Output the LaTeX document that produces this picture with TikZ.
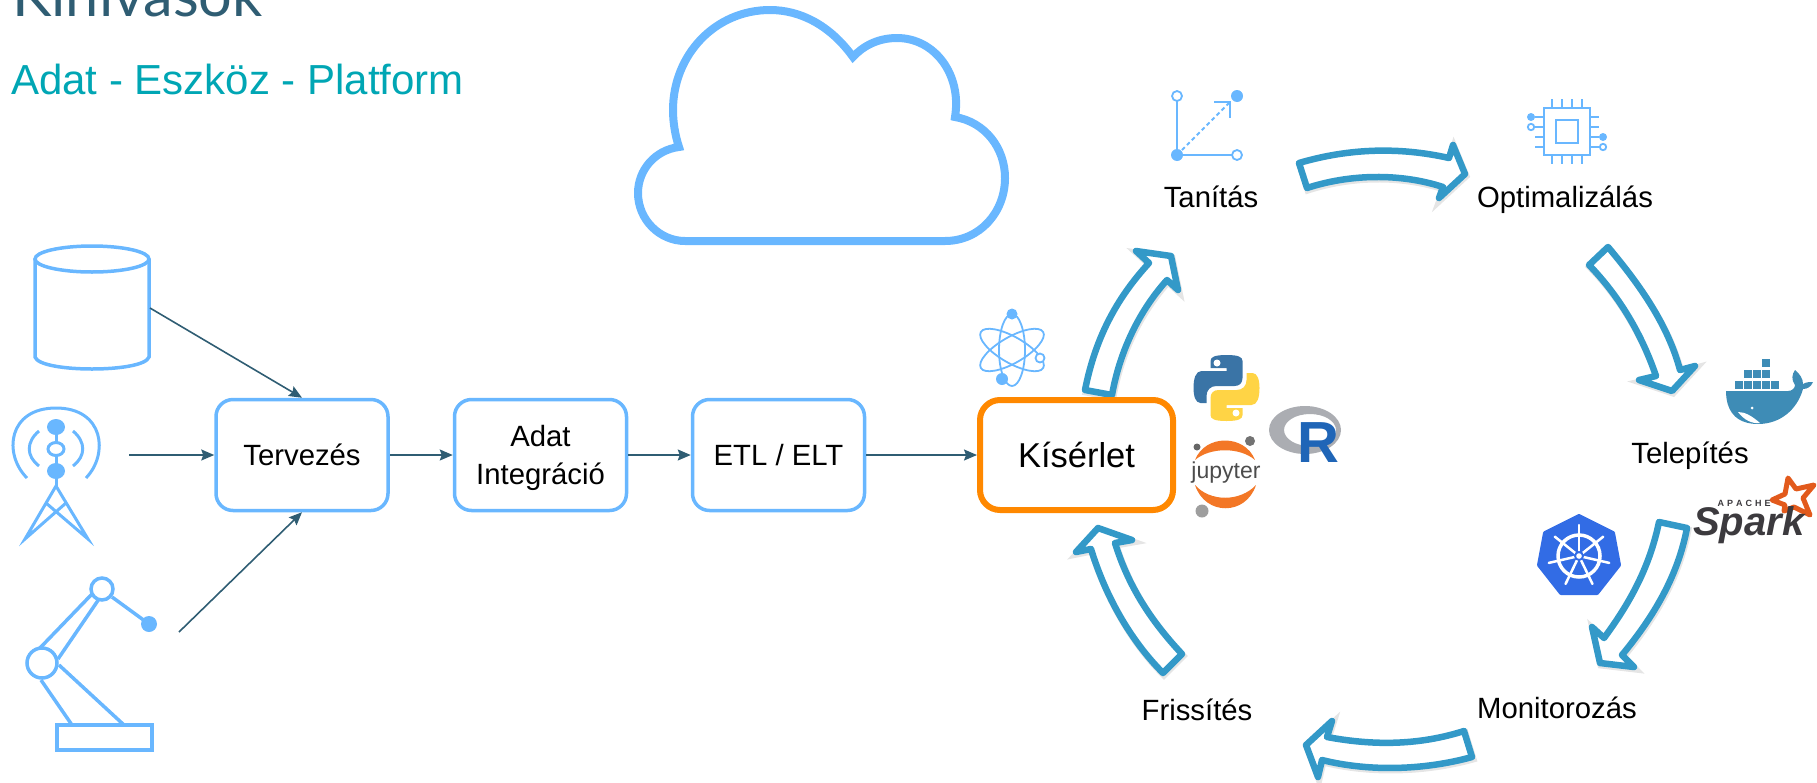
\documentclass[tikz,border=0pt]{standalone}
\usepackage{fontspec}
\setmainfont{Liberation Sans}
\newfontfamily\titlefont{Lato}
\usetikzlibrary{arrows.meta}
\definecolor{iconblue}{HTML}{69B7FF}
\definecolor{slate}{HTML}{2F5D73}
\definecolor{teal}{HTML}{00A6B4}
\definecolor{cycleblue}{HTML}{3399C8}
\definecolor{orangebox}{HTML}{FF8800}
\definecolor{pyblue}{HTML}{3A74A6}
\definecolor{pyyellow}{HTML}{FFD445}
\definecolor{rgrey}{HTML}{ABADB2}
\definecolor{rblue}{HTML}{1F65B7}
\definecolor{jupyorange}{HTML}{F37726}
\definecolor{dockerblue}{HTML}{3E8CB6}
\definecolor{kubeblue}{HTML}{326CE5}
\definecolor{sparkorange}{HTML}{E25A1C}
\definecolor{sparkgrey}{HTML}{3C3A3E}
\tikzset{
      flowbox/.style={draw=iconblue, line width=3.5, rounded corners=17, fill=white,
            minimum width=172, minimum height=111, align=center,
            font=\fontsize{29.3}{38}\selectfont},
      expbox/.style={draw=orangebox, line width=6, rounded corners=20, fill=white,
            minimum width=193, minimum height=110,
            font=\fontsize{34.5}{40}\selectfont},
      steplabel/.style={anchor=base, font=\fontsize{29.3}{32}\selectfont},
      flowarrow/.style={draw=slate, fill=slate, line width=1.6, -{Stealth[length=13,width=11,inset=2]}},
      icon/.style={draw=iconblue, line width=3.5},
      thinicon/.style={draw=iconblue, line width=1.8},
      iconfill/.style={fill=iconblue},
      cyclearrow/.style={draw=cycleblue, line width=6.5, fill=white, line join=round,
            preaction={draw=black, opacity=.1, line width=7,
                  transform canvas={xshift=1, yshift=-2}}},
}
\begin{document}
\begin{tikzpicture}[x=1pt, y=-1pt]
        \clip (0,0) rectangle (1817,782);

        % Draw the headings
        \node[anchor=base west, inner sep=0, text=slate, font=\titlefont\fontsize{59.5}{66}\selectfont] (title) at (12,16) {Kihívások};
        \node[anchor=base west, inner sep=0, text=teal, font=\fontsize{42}{48}\selectfont] (subtitle) at (11,94) {Adat - Eszköz - Platform};

        % Draw the cloud
        \draw[draw=iconblue, line width=8, miter limit=4] (685,241) -- (945,241)
              .. controls (980,241) and (1005,212) .. (1005,178)
              .. controls (1005,148) and (985,122) .. (955,117)
              .. controls (962,75) and (935,38) .. (897,38)
              .. controls (878,38) and (863,46) .. (853,57)
              .. controls (830,25) and (800,10) .. (770,10)
              .. controls (715,10) and (673,55) .. (673,110)
              .. controls (673,122) and (675,135) .. (679,147)
              .. controls (655,150) and (638,170) .. (638,193)
              .. controls (638,220) and (660,241) .. (685,241) -- cycle;

        % Draw the database
        \draw[icon] (92,259) ellipse (57 and 13);
        \draw[icon] (35,259) -- (35,357) .. controls (40,373) and (144,373) .. (149,357) -- (149,259);

        % Draw the tower
        \draw[icon, line width=3] (27,478) .. controls (3,454) and (8,408) .. (56,408) .. controls (104,408) and (109,454) .. (86,478);
        \draw[icon, line width=3] (39,431) .. controls (26,442) and (26,456) .. (39,466);
        \draw[icon, line width=3] (73,431) .. controls (86,442) and (86,456) .. (73,466);
        \draw[icon, line width=3] (56,427) -- (56,486);
        \fill[white] (56,449) ellipse (8 and 6.5);
        \draw[icon, line width=3] (56,449) ellipse (8 and 6.5);
        \fill[iconfill] (56,427) ellipse (9 and 8);
        \fill[iconfill] (56,471) ellipse (9 and 8);
        \draw[icon, line width=3, miter limit=10] (46,503) -- (88,539) -- (56,486) -- (25,539) -- (66,503);

        % Draw the robot arm
        \draw[icon] (57,725) rectangle (152,750);
        \draw[icon] (39,649) -- (92,594);
        \draw[icon] (58,659) -- (99,599);
        \draw[icon] (112,597) -- (149,624);
        \draw[icon] (41,680) -- (72,725);
        \draw[icon] (59,665) -- (124,725);
        \draw[icon, fill=white] (42,663) circle (15);
        \draw[icon, fill=white] (102,589) circle (11);
        \fill[iconfill] (149,624) circle (8);

        % Draw the boxes
        \coordinate (dbout) at (150,308);
        \coordinate (towerout) at (129,455);
        \coordinate (robotout) at (179,632);
        \node[flowbox] (tervezes) at (302,455) {Tervezés};
        \node[flowbox] (adat) at (540.5,455) {\rule{0pt}{28pt}Adat\\Integráció};
        \node[flowbox] (etl) at (778.5,455) {ETL / ELT};

        % Draw the cycle arrows
        \draw[cyclearrow] (1085,390) .. controls (1095,340) and (1115,300) .. (1149,263) -- (1136,251) -- (1171,256) -- (1178,290) -- (1167,280) .. controls (1140,310) and (1120,350) .. (1112,395) -- cycle;
        \draw[cyclearrow] (1299,163) .. controls (1350,148) and (1400,147) .. (1449,158) -- (1453,145) -- (1465,174) -- (1439,198) -- (1443,187) .. controls (1400,173) and (1350,174) .. (1307,188) -- cycle;
        \draw[cyclearrow] (1608,247) .. controls (1640,285) and (1668,325) .. (1680,370) -- (1695,366) -- (1672,391) -- (1639,380) -- (1656,376) .. controls (1642,335) and (1620,297) .. (1589,265) -- cycle;
        \draw[cyclearrow] (1659,522) .. controls (1650,565) and (1632,600) .. (1604,638) -- (1592,627) -- (1600,663) -- (1634,667) -- (1622,655) .. controls (1655,615) and (1678,575) .. (1687,528) -- cycle;
        \draw[cyclearrow] (1464,731) .. controls (1420,745) and (1375,746) .. (1327,737) -- (1332,721) -- (1306,745) -- (1318,777) -- (1322,760) .. controls (1370,772) and (1425,770) .. (1472,757) -- cycle;
        \draw[cyclearrow] (1182,654) .. controls (1150,620) and (1128,585) .. (1115,543) -- (1132,540) -- (1098,528) -- (1076,552) -- (1091,549) .. controls (1105,595) and (1130,640) .. (1163,673) -- cycle;

        \node[expbox] (kiserlet) at (1076.5,455) {Kísérlet};

        % Draw the connectors
        \draw[flowarrow] (dbout) -- (tervezes.north);
        \draw[flowarrow] (towerout) -- (tervezes.west);
        \draw[flowarrow] (robotout) -- (tervezes.south);
        \draw[flowarrow] (tervezes.east) -- (adat.west);
        \draw[flowarrow] (adat.east) -- (etl.west);
        \draw[flowarrow] (etl.east) -- (kiserlet.west);

        % Draw the cycle labels
        \node[steplabel] (tanitas) at (1211,207) {Tanítás};
        \node[steplabel] (optim) at (1565,207) {Optimalizálás};
        \node[steplabel] (telepites) at (1690,463) {Telepítés};
        \node[steplabel] (monitor) at (1557,718) {Monitorozás};
        \node[steplabel] (frissites) at (1197,720) {Frissítés};

        % Draw the atom
        \draw[thinicon] (1012,350) ellipse (13 and 36);
        \draw[thinicon, rotate around={60:(1012,350)}] (1012,350) ellipse (13 and 36);
        \draw[thinicon, rotate around={-60:(1012,350)}] (1012,350) ellipse (13 and 36);
        \fill[iconfill] (1012,314) circle (5.5);
        \fill[iconfill] (1002,379) circle (6);
        \draw[thinicon, fill=white] (1040,358) circle (4.5);

        % Draw the training icon
        \draw[thinicon] (1177,96) -- (1177,155) -- (1237,155);
        \draw[thinicon, dashed, dash pattern=on 4 off 3] (1177,155) -- (1229,103);
        \draw[thinicon] (1214,102) -- (1230,102) -- (1230,118);
        \draw[thinicon, fill=white] (1177,96) circle (5);
        \draw[thinicon, fill=white] (1237,155) circle (5);
        \fill[iconfill] (1237,96) circle (6);
        \fill[iconfill] (1177,155) circle (6);

        % Draw the chip
        \draw[thinicon] (1544,108) rectangle (1590,155);
        \draw[thinicon] (1556,120) rectangle (1578,143);
        \foreach \px in {1552,1562,1572,1582} {
              \draw[thinicon] (\px,99) -- (\px,108);
              \draw[thinicon] (\px,155) -- (\px,164);
        }
        \foreach \py in {117,127,137,147} {
              \draw[thinicon] (1535,\py) -- (1544,\py);
              \draw[thinicon] (1590,\py) -- (1599,\py);
        }
        \fill[iconfill] (1531,117) circle (4);
        \draw[thinicon, fill=white] (1531,127) circle (3.2);
        \fill[iconfill] (1603,137) circle (4);
        \draw[thinicon, fill=white] (1603,147) circle (3.2);

        % Draw the python logo
        \foreach \rot/\col in {0/pyblue,180/pyyellow} {
              \fill[\col, shift={(1226.5,388)}, rotate=\rot] (-16,-27) .. controls (-16,-31) and (-12,-33) .. (0,-33) .. controls (12,-33) and (16,-31) .. (16,-27) -- (16,-10) .. controls (16,-5) and (13,-2) .. (8,-2) -- (-10,-2) .. controls (-16,-2) and (-20,2) .. (-20,8) -- (-20,15) -- (-26,15) .. controls (-31,15) and (-33,8) .. (-33,0) .. controls (-33,-9) and (-31,-17) .. (-25,-17) -- (0,-17) -- (0,-20) -- (-16,-20) -- cycle;
        }
        \fill[white] (1217,363) circle (3.5);
        \fill[white] (1236,413) circle (3.5);

        % Draw the R logo
        \fill[rgrey, even odd rule] (1305,430) ellipse (36 and 24) (1310,430) ellipse (26 and 16);
        \node[anchor=base, inner sep=0, text=rblue, font=\bfseries\fontsize{58}{60}\selectfont] (rlogo) at (1318,462) {R};

        % Draw the jupyter logo
        \fill[jupyorange] (1195,460) .. controls (1205,434) and (1245,434) .. (1255,460) .. controls (1240,447) and (1210,447) .. (1195,460) -- cycle;
        \fill[jupyorange] (1195,485) .. controls (1205,516) and (1246,516) .. (1256,485) .. controls (1240,502) and (1210,502) .. (1195,485) -- cycle;
        \fill[black!55] (1250,441) circle (5);
        \fill[black!60] (1197,447) circle (3.5);
        \fill[black!38] (1202,511) circle (6.5);
        \node[anchor=base, inner sep=0, text=black!70, font=\fontsize{23}{25}\selectfont] (jupyter) at (1226,478) {jupyter};

        % Draw the docker whale
        \fill[dockerblue] (1726,391) -- (1788,391) .. controls (1792,391) and (1795,388) .. (1795,385) .. controls (1791,380) and (1792,374) .. (1795,370) .. controls (1800,374) and (1803,379) .. (1803,384) .. controls (1806,382) and (1810,382) .. (1813,382) .. controls (1811,387) and (1807,389) .. (1803,389) .. controls (1797,410) and (1780,424) .. (1758,424) .. controls (1735,424) and (1726,410) .. (1726,391) -- cycle;
        \fill[white] (1738,412) .. controls (1745,412) and (1752,416) .. (1760,423) .. controls (1752,424) and (1744,420) .. (1738,412) -- cycle;
        \fill[white] (1752,408) circle (1.5);
        \foreach \bx/\by in {1735/381,1744/381,1753/381,1762/381,1771/381,1744/370,1753/370,1762/370,1762/359} {
              \fill[dockerblue] (\bx,\by) rectangle ++(8,8);
        }

        % Draw the kubernetes logo
        \fill[kubeblue, draw=kubeblue, line width=4, line join=round] (1579,516) -- (1613,533) -- (1619,565) -- (1597,593) -- (1561,593) -- (1539,565) -- (1545,533) -- cycle;
        \draw[white, line width=3.5] (1579,556) circle (21);
        \foreach \k in {0,...,6} {
              \draw[white, line width=2.5, line cap=round] (1579,556) -- ++(-90+\k*51.43:31);
        }
        \fill[kubeblue] (1579,556) circle (5);
        \fill[white] (1579,556) circle (2.8);

        % Draw the spark logo
        \draw[sparkorange, line width=5, line join=round] (1788,478) -- (1796,489) -- (1814,485) -- (1803,498) -- (1810,515) -- (1794,507) -- (1784,511) -- (1785,505) -- (1772,500) -- (1785,494) -- cycle;
        \node[anchor=base west, inner sep=0, text=sparkgrey, font=\bfseries\itshape\fontsize{40}{42}\selectfont] (spark) at (1693,535) {Spark};
        \node[anchor=center, inner sep=0, text=sparkgrey, font=\bfseries\fontsize{9}{10}\selectfont] (apache) at (1744,503) {A\,\,P\,\,A\,\,C\,\,H\,\,E};

    \end{tikzpicture}
\end{document}
